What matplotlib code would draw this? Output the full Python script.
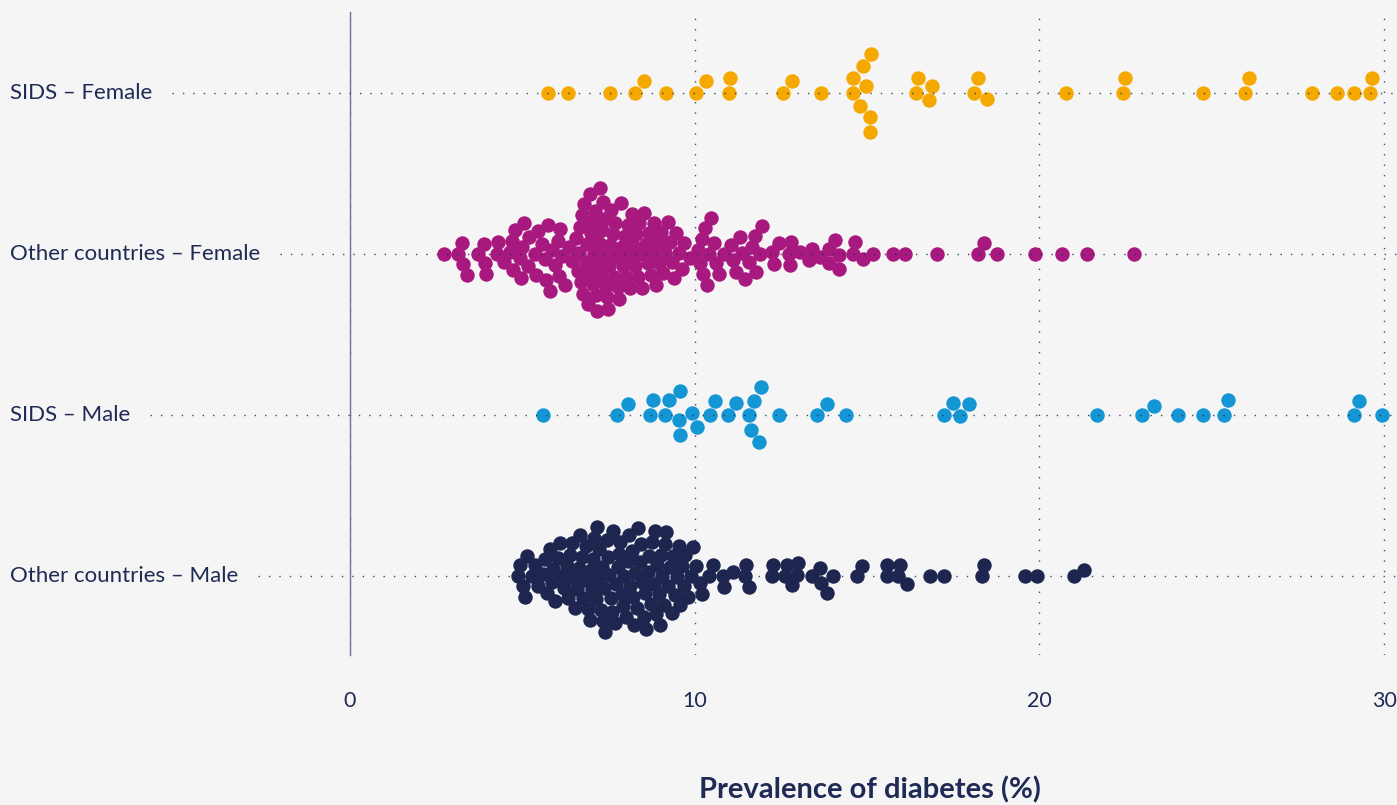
import matplotlib.pyplot as plt
import numpy as np
from matplotlib.lines import Line2D

plt.rcParams['font.family'] = ['Lato', 'DejaVu Sans']

# ---- data (prevalence of diabetes, %) ----
row_labels = ['SIDS – Female', 'Other countries – Female', 'SIDS – Male', 'Other countries – Male']
row_colors = ['#f5a800', '#a8197f', '#1596d4', '#1e2650']

sids_female = [5.75, 6.33, 7.53, 8.28, 8.54, 9.17, 10.03, 10.32, 11.0, 11.02, 12.57, 12.83,
               13.67, 14.58, 14.60, 14.78, 14.88, 14.97, 15.08, 15.09, 15.12, 16.43, 16.48,
               16.80, 16.89, 18.10, 18.22, 18.49, 20.77, 22.41, 22.49, 24.73, 25.96, 26.07,
               27.91, 28.62, 29.13, 29.58, 29.65]

other_female = [2.74, 3.12, 3.24, 3.29, 3.38, 3.72, 3.90, 3.92, 3.95,
                4.26, 4.30, 4.48, 4.64, 4.69, 4.74, 4.79, 4.93, 4.97,
                5.00, 5.05, 5.16, 5.18, 5.37, 5.39, 5.46, 5.56, 5.66, 5.68, 5.75, 5.80, 5.85, 5.95,
                6.04, 6.06, 6.09, 6.14, 6.25, 6.35, 6.43,
                6.55, 6.60, 6.65, 6.68, 6.70, 6.72,
                6.76, 6.80, 6.84, 6.87, 6.90, 6.93, 6.96, 6.98,
                7.01, 7.04, 7.07, 7.10, 7.13, 7.16, 7.19, 7.22, 7.24,
                7.27, 7.30, 7.33, 7.36, 7.40, 7.43, 7.46, 7.49,
                7.52, 7.55, 7.58, 7.62, 7.66, 7.70, 7.73,
                7.77, 7.81, 7.85, 7.89, 7.93, 7.97,
                8.01, 8.05, 8.09, 8.13, 8.18, 8.22,
                8.27, 8.31, 8.35, 8.39, 8.43, 8.47,
                8.53, 8.58, 8.63, 8.68, 8.72,
                8.78, 8.83, 8.88, 8.93, 8.97,
                9.03, 9.09, 9.15, 9.21, 9.28, 9.34, 9.40, 9.46,
                9.55, 9.62, 9.70, 9.86,
                10.10, 10.15, 10.20, 10.24, 10.30, 10.36, 10.42, 10.47,
                10.55, 10.62, 10.70, 10.85,
                11.05, 11.12, 11.20, 11.30, 11.38, 11.45, 11.58, 11.65, 11.75,
                11.78, 11.90, 11.94, 12.23, 12.30, 12.43, 12.72, 12.76, 12.78,
                13.05, 13.30, 13.39, 13.63, 13.88, 13.90, 14.07, 14.17, 14.19,
                14.60, 14.65, 14.89, 15.18, 15.74, 16.11, 17.04, 18.23, 18.38,
                18.78, 19.88, 20.65, 21.39, 22.73]

sids_male = [5.61, 7.74, 8.05, 8.70, 8.78, 9.14, 9.24, 9.55, 9.56, 9.57, 9.93, 10.07,
             10.43, 10.58, 10.96, 11.21, 11.58, 11.62, 11.72, 11.86, 11.91, 12.43, 13.54,
             13.85, 14.39, 17.24, 17.50, 17.70, 17.95, 21.67, 22.98, 23.33, 24.01, 24.73,
             25.36, 25.46, 29.12, 29.26, 29.93]

other_male = [4.86, 4.92, 5.03, 5.08, 5.12, 5.28, 5.37, 5.45, 5.61, 5.66, 5.71,
              5.80, 5.85, 5.90, 5.96,
              6.03, 6.09, 6.15, 6.21, 6.28, 6.33, 6.39, 6.44, 6.48,
              6.53, 6.58, 6.63, 6.68, 6.72, 6.77, 6.81, 6.86, 6.90, 6.95, 6.98,
              7.02, 7.05, 7.09, 7.13, 7.17, 7.20, 7.23,
              7.27, 7.30, 7.34, 7.38, 7.41, 7.45, 7.48,
              7.52, 7.56, 7.60, 7.64, 7.68, 7.72,
              7.76, 7.80, 7.84, 7.88, 7.92, 7.96,
              8.01, 8.05, 8.09, 8.13, 8.17, 8.21, 8.24,
              8.28, 8.32, 8.36, 8.40, 8.44, 8.48,
              8.52, 8.56, 8.60, 8.64, 8.68, 8.72,
              8.77, 8.81, 8.84, 8.88, 8.91, 8.95, 8.98,
              9.02, 9.06, 9.10, 9.14, 9.18, 9.23,
              9.28, 9.33, 9.38, 9.43, 9.48,
              9.53, 9.58, 9.63, 9.68, 9.73,
              9.80, 9.88, 9.95, 10.05, 10.15, 10.20,
              10.42, 10.53, 10.81, 10.85, 11.12, 11.46, 11.48, 11.56,
              12.23, 12.28, 12.62, 12.67, 12.81, 12.96, 13.00,
              13.39, 13.63, 13.65, 13.83, 14.02, 14.70, 14.84,
              15.57, 15.59, 15.91, 15.96, 16.15, 16.81, 17.23,
              18.32, 18.39, 19.58, 19.94, 21.00, 21.29]

rows = [sids_female, other_female, sids_male, other_male]
row_y = [3, 2, 1, 0]
row_gap = [15, 11.5, 15, 11.5]   # collision distance in px for the swarm layout

BG = '#f5f5f5'
NAVY = '#1f2a55'

fig = plt.figure(figsize=(13.97, 8.05), dpi=100, facecolor=BG)
W, H = 1397, 805
ax = fig.add_axes([350 / W, 150 / H, 1047 / W, 643 / H])
ax.set_facecolor(BG)
ax.set_xlim(0, 30.37)
ax.set_ylim(-0.49, 3.50)

for s in ['top', 'right', 'bottom']:
    ax.spines[s].set_visible(False)
ax.spines['left'].set_color('#6e7499')
ax.spines['left'].set_linewidth(1.0)
ax.set_yticks([])
ax.set_xticks([0, 10, 20, 30])
ax.tick_params(axis='x', length=0, pad=26, labelsize=15.5, labelcolor=NAVY)
ax.grid(axis='x', color=NAVY, alpha=0.85, linewidth=1.0, linestyle=(0, (1, 6.5)))
ax.set_axisbelow(True)

ax.set_xlabel('Prevalence of diabetes (%)', fontsize=21, fontweight='bold', color=NAVY)
ax.xaxis.set_label_coords(0.5 - 4 / 1047, -(790 - 655) / 643)
ax.xaxis.label.set_va('center')


def swarm(xpx, d):
    """greedy beeswarm: offsets in pixels, smallest |offset| that avoids overlap"""
    offs = np.zeros(len(xpx))
    placed = []
    for i in np.argsort(xpx, kind='stable'):
        x = xpx[i]
        near = [(xj, yj) for xj, yj in placed if abs(x - xj) < d]
        cands = [0.0]
        for xj, yj in near:
            h = np.sqrt(d * d - (x - xj) ** 2)
            cands += [yj + h, yj - h]
        cands.sort(key=lambda c: (abs(c), -c))
        for c in cands:
            if all((x - xj) ** 2 + (c - yj) ** 2 >= d * d - 1e-6 for xj, yj in near):
                offs[i] = c
                break
        placed.append((x, offs[i]))
    return offs


px_per_unit_y = ax.transData.transform((0, 1))[1] - ax.transData.transform((0, 0))[1]

for vals, y0, col, gap in zip(rows, row_y, row_colors, row_gap):
    vals = np.asarray(vals)
    xpx = ax.transData.transform(np.column_stack([vals, np.zeros_like(vals)]))[:, 0]
    offs = swarm(xpx, gap)
    ax.scatter(vals, y0 + offs / px_per_unit_y, s=108, color=col, linewidths=0, zorder=3)

# row labels and horizontal dotted guides
renderer = fig.canvas.get_renderer()
for lab, y0 in zip(row_labels, row_y):
    ypx = ax.transData.transform((0, y0))[1]
    t = fig.text(10 / W, ypx / H, lab, fontsize=16, color=NAVY, va='center', ha='left')
    x_end = t.get_window_extent(renderer).x1
    fig.add_artist(Line2D([(x_end + 20) / W, 1.0], [ypx / H, ypx / H], color=NAVY, alpha=0.85,
                          linewidth=1.0, linestyle=(0, (1, 6.5)), zorder=1))

fig.savefig('out.png', dpi=100, facecolor=BG)
